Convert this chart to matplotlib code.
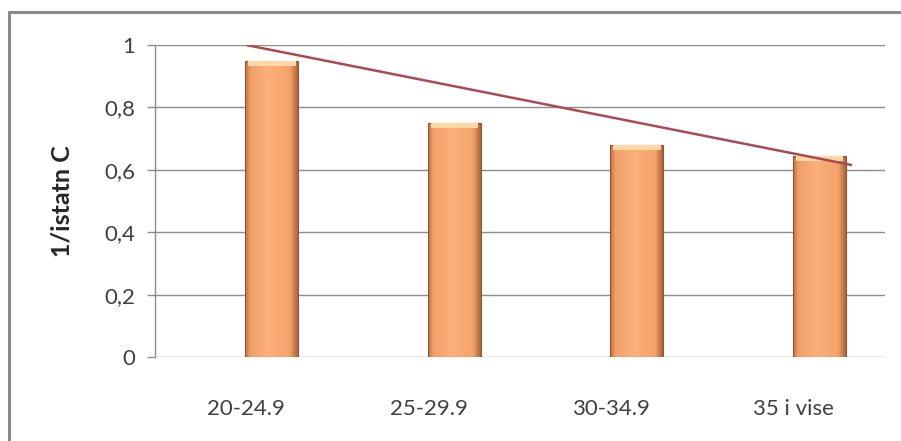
import numpy as np
import matplotlib
matplotlib.use("Agg")
import matplotlib.pyplot as plt
from matplotlib.patches import Rectangle
from matplotlib.colors import LinearSegmentedColormap

# data
categories = ["20-24.9", "25-29.9", "30-34.9", "35 i vise"]
values = [0.95, 0.75, 0.68, 0.645]
trend_x = [0.0, 3.32]
trend_y = [1.0, 0.615]
y_ticks = [0, 0.2, 0.4, 0.6, 0.8, 1.0]
y_ticklabels = ["0", "0,2", "0,4", "0,6", "0,8", "1"]
y_label = "1/istatn C"

plt.rcParams["font.family"] = ["Lato", "DejaVu Sans"]

fig = plt.figure(figsize=(9.01, 4.41), dpi=100)
ax = fig.add_axes([155 / 901, 1 - 357 / 441, 730 / 901, 312 / 441])

# outer chart frame (runs off the right and bottom edge like the reference)
fig.patches.append(Rectangle((9 / 901, -0.1), 1.2, 1 - 12 / 441 + 0.1,
                             transform=fig.transFigure, fill=False,
                             edgecolor="#8a8a8a", linewidth=2.2))

# soft gradient for the bars, darker only close to the edges
shade = LinearSegmentedColormap.from_list(
    "bar", [(0, "#b8703f"), (0.1, "#f2a06a"), (0.45, "#fbb07b"),
            (0.85, "#f5a36b"), (1, "#a9643a")])
grad = np.linspace(0, 1, 256).reshape(1, -1)

off = 0.14
width = 0.29
x = np.arange(len(categories))
bars = ax.bar(x + off, values, width, color="none", edgecolor="#8f5632",
              linewidth=0.8, zorder=3)
for b, v in zip(bars, values):
    x0 = b.get_x()
    im = ax.imshow(grad, cmap=shade, aspect="auto", zorder=2,
                   extent=[x0, x0 + width, 0, v], interpolation="bicubic")
    im.set_clip_path(b)
    # light top cap
    ax.add_patch(Rectangle((x0 + 0.015, v - 0.016), width - 0.03, 0.016,
                           facecolor="#fdd7a4", edgecolor="none", zorder=3))

ax.plot(trend_x, trend_y, color="#ab4a55", linewidth=1.8, zorder=4,
        solid_capstyle="butt")

ax.set_xlim(-0.5, 3.5)
ax.set_ylim(0, 1)
ax.set_yticks(y_ticks)
ax.set_yticklabels(y_ticklabels)
ax.set_xticks(x)
ax.set_xticklabels(categories)
ax.grid(axis="y", color="#8c8c8c", linewidth=1)
ax.set_axisbelow(True)

for s in ["top", "right", "bottom"]:
    ax.spines[s].set_visible(False)
ax.spines["left"].set_color("#8c8c8c")
ax.spines["left"].set_linewidth(1)

ax.tick_params(axis="y", length=6, width=1, color="#8c8c8c", pad=8,
               labelsize=16, labelcolor="#404040")
ax.tick_params(axis="x", length=0, pad=30, labelsize=16, labelcolor="#404040")
ax.set_ylabel(y_label, fontsize=18, fontweight="bold", color="#262626",
              labelpad=22)

fig.savefig("out.png", dpi=100)
